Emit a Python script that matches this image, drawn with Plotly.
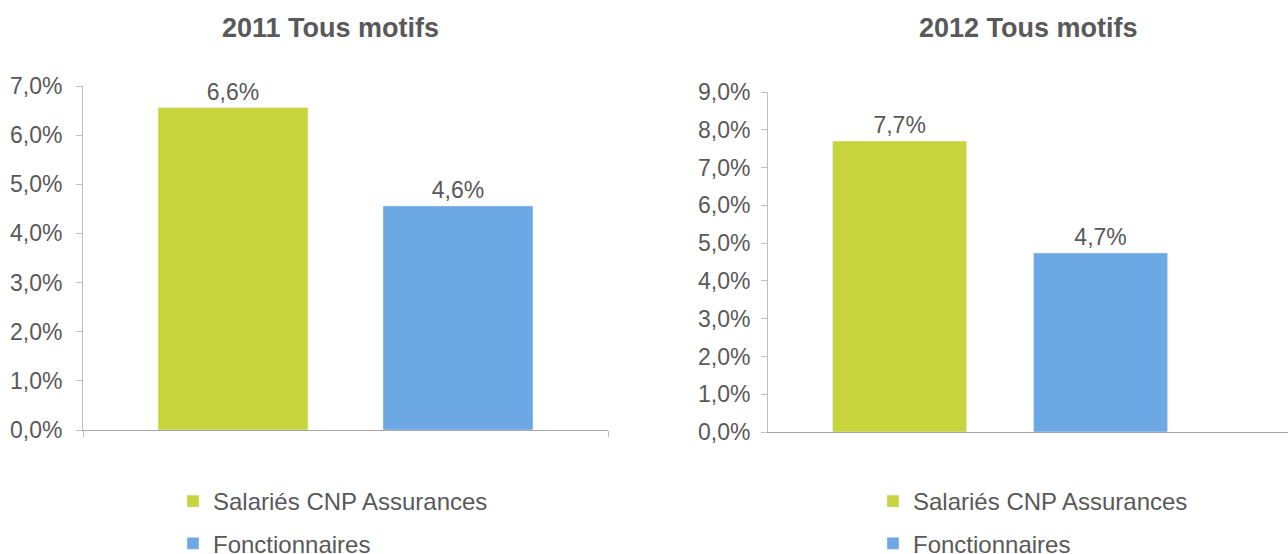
import plotly.graph_objects as go

series = ["Salariés CNP Assurances", "Fonctionnaires"]
colors = ["#C8D43B", "#6CA8E4"]
values_2011 = [0.0656, 0.0456]
values_2012 = [0.0770, 0.0474]
titles = ["2011 Tous motifs", "2012 Tous motifs"]
category = ["Tous motifs"]

W, H = 1288, 554
FONT = "Liberation Sans, Arial, sans-serif"
GREY = "#595959"

fig = go.Figure()
for i, name in enumerate(series):
    fig.add_trace(go.Bar(
        x=category, y=[values_2011[i]], name=name, marker_color=colors[i],
        xaxis="x", yaxis="y", legend="legend", legendgroup="a%d" % i,
        texttemplate="%{y:.1%}", textposition="outside",
        textfont=dict(size=23, color=GREY, family=FONT), cliponaxis=False,
    ))
for i, name in enumerate(series):
    fig.add_trace(go.Bar(
        x=category, y=[values_2012[i]], name=name, marker_color=colors[i],
        xaxis="x2", yaxis="y2", legend="legend2", legendgroup="b%d" % i,
        texttemplate="%{y:.1%}", textposition="outside",
        textfont=dict(size=23, color=GREY, family=FONT), cliponaxis=False,
    ))

def px_x(p):
    return p / W

def px_y(p):
    return 1 - p / H

yax_common = dict(
    tickformat=".1%", dtick=0.01, showgrid=False, zeroline=False,
    showline=True, linecolor="#bfbfbf", linewidth=1,
    ticks="outside", ticklen=6, tickcolor="#bfbfbf",
    tickfont=dict(size=23, color=GREY, family=FONT), fixedrange=True,
)
xax_common = dict(
    showticklabels=False, showgrid=False, zeroline=False,
    showline=True, linecolor="#a6a6a6", linewidth=1, fixedrange=True,
)

legend_common = dict(
    font=dict(size=24, color=GREY, family=FONT), bgcolor="rgba(0,0,0,0)",
    tracegroupgap=8, yanchor="top", xanchor="left", orientation="v",
)

fig.update_layout(
    width=W, height=H, margin=dict(l=0, r=0, t=0, b=0, autoexpand=False),
    paper_bgcolor="white", plot_bgcolor="white",
    separators=", ", barmode="group", bargap=1/7, bargroupgap=1/3,
    font=dict(family=FONT, color=GREY),
    xaxis=dict(domain=[px_x(83), px_x(608)], range=[-0.5, 0.5],
               ticks="outside", tickson="boundaries", ticklen=6, tickcolor="#bfbfbf",
               anchor="y", **xax_common),
    yaxis=dict(domain=[px_y(430), px_y(86)], range=[0, 0.07], anchor="x",
               ticklabelstandoff=9, **yax_common),
    xaxis2=dict(domain=[px_x(768), 1], range=[-0.495, 0.614], anchor="y2", **xax_common),
    yaxis2=dict(domain=[px_y(432), px_y(92)], range=[0, 0.09], anchor="x2",
                ticklabelstandoff=6, **yax_common),
    legend=dict(x=px_x(173), y=px_y(479), **legend_common),
    legend2=dict(x=px_x(873), y=px_y(479), **legend_common),
    annotations=[
        dict(text="<b>%s</b>" % titles[0], x=px_x(330), y=px_y(28), xref="paper", yref="paper",
             xanchor="center", yanchor="middle",
             showarrow=False, font=dict(size=27, color=GREY, family=FONT)),
        dict(text="<b>%s</b>" % titles[1], x=px_x(1028), y=px_y(28), xref="paper", yref="paper",
             xanchor="center", yanchor="middle",
             showarrow=False, font=dict(size=27, color=GREY, family=FONT)),
    ],
)

fig.write_html(
    "out.html",
    config={"displayModeBar": False},
    post_script="document.body.style.margin='0';document.body.style.overflow='hidden';",
)
